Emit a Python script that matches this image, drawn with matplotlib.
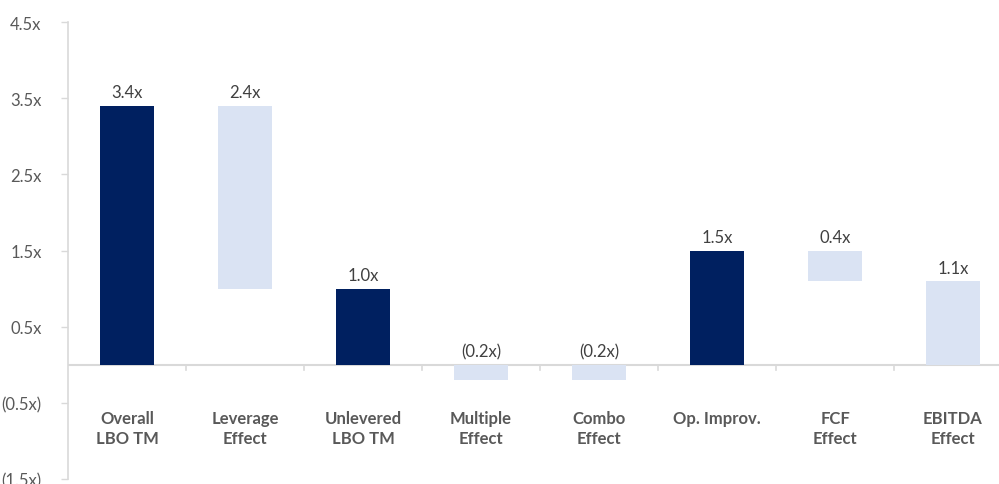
import matplotlib.pyplot as plt
import numpy as np

# Descomposicion del multiplo (LBO TM) en puente
categorias = ["Overall\nLBO TM", "Leverage\nEffect", "Unlevered\nLBO TM", "Multiple\nEffect",
              "Combo\nEffect", "Op. Improv.", "FCF\nEffect", "EBITDA\nEffect"]
valores = [3.4, 2.4, 1.0, -0.2, -0.2, 1.5, 0.4, 1.1]
bases = [0.0, 1.0, 0.0, 0.0, 0.0, 0.0, 1.1, 0.0]
es_total = [True, False, True, False, False, True, False, False]

y_ticks = [4.5, 3.5, 2.5, 1.5, 0.5, -0.5, -1.5]

azul = '#002060'
celeste = '#dae3f3'
gris_txt = '#595959'
gris_eje = '#d9d9d9'

plt.rcParams['font.family'] = ['Lato', 'DejaVu Sans']

def fmt_x(v):
    if v < 0:
        return f"({abs(v):.1f}x)"
    return f"{v:.1f}x"

fig = plt.figure(figsize=(9.99, 4.85), dpi=100)
ax = fig.add_axes([68/999, 5/485, 1 - 68/999, 457/485])

x = np.arange(len(categorias))
colores = [azul if t else celeste for t in es_total]
ax.bar(x, valores, bottom=bases, width=0.45, color=colores, zorder=2)

# Etiquetas de valor sobre cada barra
for xi, v, b in zip(x, valores, bases):
    tope = max(b + v, b, 0)
    ax.text(xi, tope + 0.07, fmt_x(v), ha='center', va='bottom', fontsize=12, color='#404040')

# Nombres de categoria debajo de la linea de cero
for xi, c in zip(x, categorias):
    ax.text(xi, -0.6, c, ha='center', va='top', fontsize=12, fontweight='bold',
            color=gris_txt, linespacing=1.3)

# Linea de cero con marcas entre categorias
ax.axhline(0, color=gris_eje, linewidth=1.5, zorder=1)
for xb in np.arange(0.5, len(categorias) - 0.5, 1.0):
    ax.plot([xb, xb], [0, -0.07], color=gris_eje, linewidth=1.2, zorder=1)

ax.set_xlim(-0.5, (999 - 68) / 118 - 0.5)
ax.set_ylim(-1.5, 4.5)
ax.set_yticks(y_ticks)
ax.set_yticklabels([fmt_x(t) for t in y_ticks])
ax.tick_params(axis='y', length=5, width=1, color=gris_eje, labelcolor=gris_txt,
               labelsize=12, pad=14)
ax.set_xticks([])

for s in ['top', 'right', 'bottom']:
    ax.spines[s].set_visible(False)
ax.spines['left'].set_color(gris_eje)
ax.spines['left'].set_linewidth(1.2)

fig.savefig('out.png', dpi=100)
